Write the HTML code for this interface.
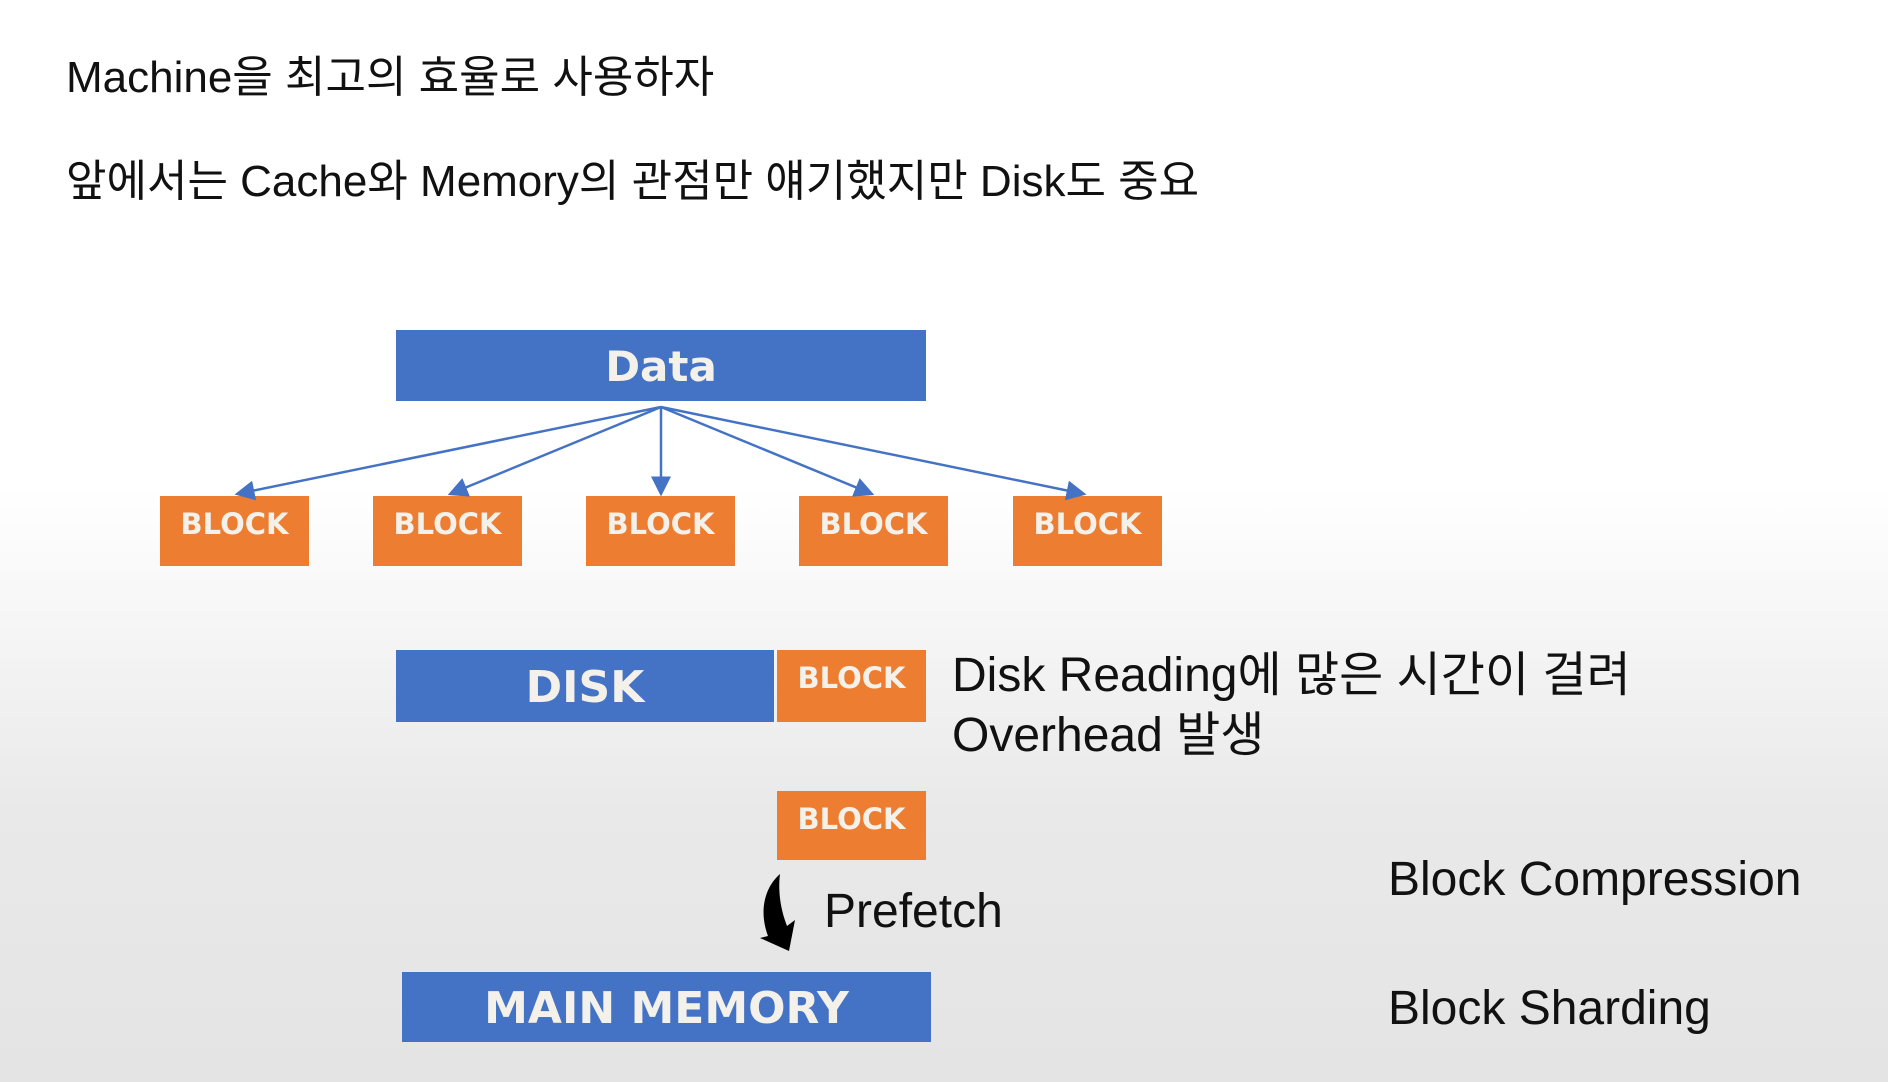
<!DOCTYPE html>
<html><head><meta charset="utf-8"><style>
body{margin:0;width:1888px;height:1082px;overflow:hidden;background:linear-gradient(#ffffff 0%,#ffffff 45%,#e9e9e9 75%,#e4e4e4 100%);font-family:"Liberation Sans","Noto Sans CJK KR",sans-serif;position:relative}
.t{position:absolute;white-space:nowrap;color:#111;line-height:1}
.b{position:absolute;color:#f4f0ea;font-weight:bold;text-align:center;font-family:"DejaVu Sans","Liberation Sans",sans-serif}
.blue{background:#4472c4}.or{background:#ed7d31}
.blk{font-size:29px;height:70px;width:149px;line-height:56px}
</style></head><body>
<div class="t" style="left:66px;top:56px;font-size:44px">Machine을 최고의 효율로 사용하자</div>
<div class="t" style="left:66px;top:160px;font-size:44px">앞에서는 Cache와 Memory의 관점만 얘기했지만 Disk도 중요</div>

<div class="b blue" style="left:396px;top:330px;width:530px;height:71px;line-height:74px;font-size:42px">Data</div>
<div class="b or blk" style="left:160px;top:496px">BLOCK</div>
<div class="b or blk" style="left:373px;top:496px">BLOCK</div>
<div class="b or blk" style="left:586px;top:496px">BLOCK</div>
<div class="b or blk" style="left:799px;top:496px">BLOCK</div>
<div class="b or blk" style="left:1013px;top:496px">BLOCK</div>

<svg style="position:absolute;left:0;top:0" width="1888" height="1082">
<defs><marker id="a" markerWidth="8" markerHeight="8" refX="7" refY="4" orient="auto" markerUnits="strokeWidth"><path d="M0,0L8,4L0,8z" fill="#4472c4"/></marker></defs>
<g stroke="#4472c4" stroke-width="2.5" fill="none" marker-end="url(#a)">
<line x1="661" y1="407" x2="237" y2="494"/>
<line x1="661" y1="407" x2="450" y2="494"/>
<line x1="661" y1="407" x2="661" y2="494"/>
<line x1="661" y1="407" x2="872" y2="494"/>
<line x1="661" y1="407" x2="1084" y2="494"/>
</g>
<path d="M780,874 C762,890 760,915 768,936 L760,938 L789,951 L795,920 L787,926 C780,908 778,890 780,874Z" fill="#000"/>
</svg>

<div class="b blue" style="left:396px;top:650px;width:378px;height:72px;line-height:76px;font-size:44px">DISK</div>
<div class="b or blk" style="left:777px;top:650px;height:72px">BLOCK</div>
<div class="t" style="left:952px;top:652px;font-size:48px">Disk Reading에 많은 시간이 걸려</div>
<div class="t" style="left:952px;top:712px;font-size:48px">Overhead 발생</div>
<div class="b or blk" style="left:777px;top:791px;height:69px">BLOCK</div>
<div class="t" style="left:824px;top:888px;font-size:48px">Prefetch</div>
<div class="b blue" style="left:402px;top:972px;width:529px;height:70px;line-height:74px;font-size:44px">MAIN MEMORY</div>
<div class="t" style="left:1388px;top:856px;font-size:48px">Block Compression</div>
<div class="t" style="left:1388px;top:985px;font-size:48px">Block Sharding</div>
</body></html>
